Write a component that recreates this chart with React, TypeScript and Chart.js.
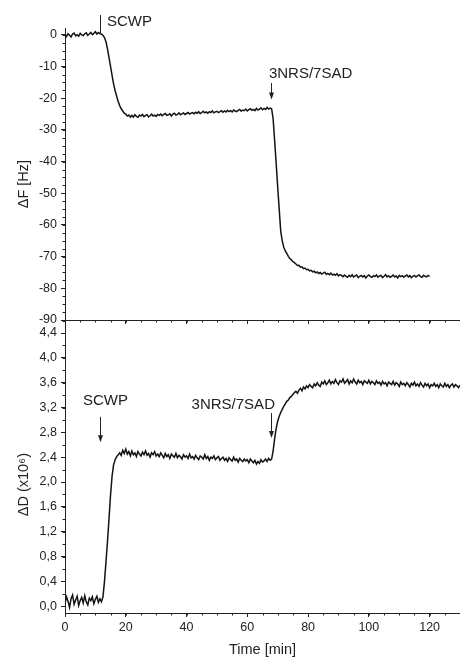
import React, { useEffect, useRef } from 'react';
import { Chart, registerables } from 'chart.js';

Chart.register(...registerables);

// ---------- data ----------
const SAMPLE_STEP_MIN = 0.5; // sampling interval of the traces (min)

// frequency shift ΔF [Hz], one value every 0.5 min from t = 0 to 120 min
const deltaF = [
  // 0 – 11.5
  0.2, -0.5, 0.4, -0.1, -0.6, 0.3, 0.6, -0.3, 0.1, -0.4, 0.5, 0.0,
  -0.2, 0.4, 0.7, -0.1, 0.3, 0.8, 0.1, 0.5, 1.0, 0.3, 0.8, 0.4,
  // 12 – 21.5
  0.3, -0.2, -0.8, -2.2, -4.5, -7.2, -10, -12.8, -15.5, -17.6,
  -19.3, -21, -22.3, -23.3, -24, -24.7, -25, -25.6, -25.3, -25.9,
  // 22 – 31.5
  -25.4, -25.9, -25.2, -25.7, -26.0, -25.3, -25.6, -25.1, -25.8, -25.4,
  -25.2, -25.9, -25.5, -25.0, -25.6, -25.3, -25.7, -25.1, -25.4, -25.0,
  // 32 – 41.5
  -25.5, -25.1, -24.8, -25.4, -25.2, -24.9, -25.6, -25.0, -24.7, -25.3,
  -25.1, -24.6, -25.2, -24.9, -24.6, -25.1, -24.8, -24.5, -25.0, -24.7,
  // 42 – 51.5
  -24.5, -24.9, -24.4, -24.7, -24.2, -24.8, -24.5, -24.1, -24.6, -24.3,
  -24.7, -24.2, -24.5, -24.0, -24.6, -24.3, -24.1, -24.5, -24.2, -23.9,
  // 52 – 61.5
  -24.4, -24.0, -24.3, -23.8, -24.2, -23.9, -24.3, -23.7, -24.0, -24.2,
  -23.8, -23.5, -24.1, -23.7, -23.9, -23.4, -24.0, -23.6, -23.3, -23.8,
  // 62 – 71.5
  -23.5, -23.9, -23.2, -23.7, -23.4, -23.0, -23.6, -23.2, -23.5, -22.9,
  -23.4, -23.1, -23.3, -26.5, -33.5, -40.5, -48, -55, -62, -65,
  // 72 – 81.5
  -67, -68.2, -69, -69.9, -70.6, -71.0, -71.6, -71.9, -72.3, -72.8,
  -72.7, -73.3, -73.2, -73.8, -73.6, -74.1, -74.0, -74.5, -74.3, -74.8,
  // 82 – 91.5
  -74.6, -75.1, -74.8, -75.3, -75.0, -75.5, -75.2, -74.9, -75.6, -75.3,
  -75.7, -75.2, -75.8, -75.5, -75.9, -75.4, -76.1, -75.7, -75.9, -76.3,
  // 92 – 101.5
  -75.8, -76.2, -76.5, -75.9, -76.3, -75.7, -76.4, -76.1, -75.8, -76.6,
  -76.2, -75.9, -76.4, -76.0, -76.7, -76.1, -75.8, -76.3, -76.5, -76.0,
  // 102 – 111.5
  -76.3, -75.8, -76.5, -76.1, -75.9, -76.6, -76.2, -75.7, -76.4, -76.0,
  -76.5, -76.2, -75.8, -76.4, -76.1, -76.7, -75.9, -76.3, -76.0, -76.5,
  // 112 – 120
  -76.1, -75.8, -76.4, -76.0, -76.6, -76.2, -75.9, -76.4, -76.1, -75.7,
  -76.3, -76.5, -75.9, -76.2, -76.4, -75.9, -76.2,
];

// dissipation shift ΔD (x10^6), one value every 0.5 min from t = 0 to 130 min
const deltaD = [
  // 0 – 11.5
  0.04, 0.15, 0.08, -0.02, 0.12, 0.18, 0.03, 0.10, 0.16, 0.01, 0.09, 0.14,
  0.05, 0.17, 0.07, 0.02, 0.13, 0.09, 0.15, 0.04, 0.11, 0.16, 0.06, 0.12,
  // 12 – 21.5
  0.07, 0.15, 0.4, 0.72, 1.05, 1.42, 1.8, 2.1, 2.28, 2.36,
  2.41, 2.44, 2.47, 2.43, 2.51, 2.46, 2.53, 2.45, 2.49, 2.42,
  // 22 – 31.5
  2.50, 2.44, 2.47, 2.41, 2.49, 2.45, 2.42, 2.48, 2.44, 2.50,
  2.43, 2.46, 2.40, 2.47, 2.44, 2.49, 2.42, 2.45, 2.41, 2.47,
  // 32 – 41.5
  2.43, 2.39, 2.46, 2.41, 2.44, 2.38, 2.45, 2.42, 2.40, 2.46,
  2.39, 2.43, 2.41, 2.37, 2.44, 2.40, 2.42, 2.38, 2.45, 2.39,
  // 42 – 51.5
  2.41, 2.37, 2.43, 2.39, 2.36, 2.42, 2.40, 2.37, 2.44, 2.38,
  2.41, 2.35, 2.40, 2.38, 2.42, 2.36, 2.39, 2.41, 2.35, 2.38,
  // 52 – 61.5
  2.40, 2.35, 2.38, 2.33, 2.39, 2.36, 2.34, 2.40, 2.35, 2.37,
  2.32, 2.38, 2.35, 2.33, 2.37, 2.34, 2.36, 2.31, 2.37, 2.34,
  // 62 – 71.5
  2.31, 2.35, 2.29, 2.33, 2.30, 2.36, 2.32, 2.34, 2.37, 2.33,
  2.38, 2.35, 2.37, 2.50, 2.70, 2.86, 2.98, 3.06, 3.12, 3.17,
  // 72 – 81.5
  3.22, 3.26, 3.30, 3.32, 3.36, 3.38, 3.41, 3.44, 3.46, 3.43,
  3.48, 3.51, 3.47, 3.53, 3.50, 3.55, 3.52, 3.57, 3.54, 3.52,
  // 82 – 91.5
  3.58, 3.55, 3.60, 3.56, 3.54, 3.61, 3.58, 3.63, 3.57, 3.60,
  3.64, 3.58, 3.62, 3.59, 3.65, 3.60, 3.57, 3.63, 3.61, 3.66,
  // 92 – 101.5
  3.59, 3.62, 3.65, 3.58, 3.63, 3.60, 3.66, 3.61, 3.58, 3.64,
  3.60, 3.62, 3.57, 3.63, 3.61, 3.59, 3.64, 3.58, 3.62, 3.60,
  // 102 – 111.5
  3.57, 3.63, 3.59, 3.61, 3.56, 3.62, 3.58, 3.60, 3.55, 3.61,
  3.59, 3.57, 3.62, 3.56, 3.60, 3.58, 3.54, 3.61, 3.57, 3.59,
  // 112 – 121.5
  3.55, 3.60, 3.57, 3.53, 3.59, 3.56, 3.61, 3.55, 3.58, 3.54,
  3.60, 3.56, 3.53, 3.59, 3.55, 3.58, 3.52, 3.57, 3.55, 3.59,
  // 122 – 130
  3.54, 3.57, 3.52, 3.58, 3.55, 3.53, 3.59, 3.54, 3.57, 3.52,
  3.56, 3.58, 3.53, 3.57, 3.55, 3.52, 3.56,
];

// axes
const xRange = [0, 130];
const xMajorStep = 20;
const xMinorStep = 5;
const fRange = [-90, 2.2];
const fMajorStep = 10;
const fMinorStep = 2.5;
const dRange = [-0.11, 4.61];
const dMajorStep = 0.4;
const dMinorStep = 0.2;

const xTitle = 'Time [min]';
const fTitle = 'ΔF [Hz]';
const dTitle = 'ΔD (x10⁶)';

// injection annotations
const annotationLabels = ['SCWP', '3NRS/7SAD'];
const annotationTimes = [11.4, 67.8];
// top panel (ΔF)
const fArrowFrom = [6.3, -15.2];
const fArrowTo = [0.6, -20.4];
const fArrowHead = [false, true];
const fTextTime = [13.8, 67.1];
const fTextValue = [4.1, -12.3];
const fTextAlign = ['left', 'left'];
// bottom panel (ΔD)
const dArrowFrom = [3.05, 3.11];
const dArrowTo = [2.64, 2.71];
const dArrowHead = [true, true];
const dTextTime = [5.9, 69.1];
const dTextValue = [3.3, 3.24];
const dTextAlign = ['left', 'right'];

// ---------- styling ----------
const INK = '#222222';
const LINE = '#141414';
const FONT = "'Liberation Sans', Arial, Helvetica, sans-serif";
const NBSP = '\u00A0';

Chart.defaults.font.family = FONT;
Chart.defaults.color = INK;

const toPoints = (vals: number[]) =>
  vals.map((v, i) => ({ x: i * SAMPLE_STEP_MIN, y: v }));

const minorTicksPlugin = {
  id: 'minorTicks',
  afterDraw(chart: any, _args: any, opts: any) {
    const { ctx } = chart;
    const steps = opts.steps || {};
    ctx.save();
    ctx.strokeStyle = INK;
    ctx.lineWidth = 1;
    Object.keys(steps).forEach((id) => {
      const s = chart.scales[id];
      if (!s) return;
      const step = steps[id];
      const len = opts.length || 2.5;
      const i0 = Math.ceil(s.min / step - 1e-9);
      ctx.beginPath();
      for (let i = i0; i * step <= s.max + 1e-9; i++) {
        const p = Math.round(s.getPixelForValue(i * step)) + 0.5;
        if (s.isHorizontal()) {
          const y0 = Math.round(s.top);
          ctx.moveTo(p, y0);
          ctx.lineTo(p, y0 + len);
        } else {
          const x0 = Math.round(s.right);
          ctx.moveTo(x0, p);
          ctx.lineTo(x0 - len, p);
        }
      }
      ctx.stroke();
    });
    ctx.restore();
  },
};

const arrowNotesPlugin = {
  id: 'arrowNotes',
  afterDatasetsDraw(chart: any, _args: any, opts: any) {
    const { ctx } = chart;
    const x = chart.scales.x;
    const y = chart.scales.y;
    const n = annotationLabels.length;
    ctx.save();
    ctx.strokeStyle = INK;
    ctx.fillStyle = INK;
    ctx.lineWidth = 1;
    for (let i = 0; i < n; i++) {
      const px = Math.round(x.getPixelForValue(annotationTimes[i])) + 0.5;
      const yFrom = y.getPixelForValue(opts.arrowFrom[i]);
      const yTo = y.getPixelForValue(opts.arrowTo[i]);
      ctx.beginPath();
      ctx.moveTo(px, yFrom);
      ctx.lineTo(px, opts.arrowHead[i] ? yTo - 4 : yTo);
      ctx.stroke();
      if (opts.arrowHead[i]) {
        ctx.beginPath();
        ctx.moveTo(px, yTo);
        ctx.lineTo(px - 2.5, yTo - 7);
        ctx.lineTo(px + 2.5, yTo - 7);
        ctx.closePath();
        ctx.fill();
      }
      ctx.font = `15px ${FONT}`;
      ctx.textBaseline = 'middle';
      ctx.textAlign = opts.textAlign[i];
      ctx.fillText(
        annotationLabels[i],
        x.getPixelForValue(opts.textTime[i]),
        y.getPixelForValue(opts.textValue[i])
      );
    }
    ctx.restore();
  },
};

function baseOptions(
  yRange: number[],
  yMajor: number,
  yMinor: number,
  yTitle: string,
  yTitleShift: number,
  showXLabels: boolean,
  xHeight: number,
  topPad: number,
  yFormat: (v: number) => string,
  notes: any
) {
  return {
    responsive: false,
    animation: false as const,
    layout: { padding: { top: topPad, left: 0, right: 0, bottom: 0 } },
    plugins: {
      legend: { display: false },
      tooltip: { enabled: false },
      minorTicks: { steps: { x: xMinorStep, y: yMinor }, length: 2.5 },
      arrowNotes: notes,
    },
    scales: {
      x: {
        type: 'linear' as const,
        min: xRange[0],
        max: xRange[1],
        border: { display: true, color: INK, width: 1 },
        grid: { drawOnChartArea: false, drawTicks: true, tickLength: 4, color: INK },
        ticks: {
          display: showXLabels,
          stepSize: xMajorStep,
          includeBounds: false,
          padding: 3,
          color: INK,
          font: { size: 12.5 },
          maxRotation: 0,
          autoSkip: false,
        },
        title: {
          display: showXLabels,
          text: xTitle,
          color: INK,
          font: { size: 14.5 },
          padding: { top: 0, bottom: 0 },
        },
        afterFit: (s: any) => {
          s.height = xHeight;
          s.paddingLeft = 0;
          s.paddingRight = 0;
        },
      },
      y: {
        type: 'linear' as const,
        min: yRange[0],
        max: yRange[1],
        border: { display: true, color: INK, width: 1 },
        grid: { drawOnChartArea: false, drawTicks: true, tickLength: 4, color: INK },
        ticks: {
          stepSize: yMajor,
          includeBounds: false,
          padding: 4,
          color: INK,
          font: { size: 12.5 },
          autoSkip: false,
          callback: (v: any) => yFormat(Number(v)),
        },
        title: {
          display: true,
          text: yTitle + NBSP.repeat(yTitleShift),
          color: INK,
          font: { size: 14.5 },
          padding: { top: 15, bottom: 0 },
        },
        afterFit: (s: any) => {
          s.width = 65;
          s.paddingTop = 0;
          s.paddingBottom = 0;
        },
      },
    },
  };
}

export default function App() {
  const topRef = useRef<HTMLCanvasElement>(null);
  const botRef = useRef<HTMLCanvasElement>(null);

  useEffect(() => {
    const lineDataset = (vals: number[]) => ({
      data: toPoints(vals),
      borderColor: LINE,
      borderWidth: 1.5,
      pointRadius: 0,
      tension: 0,
      fill: false,
    });

    const top = new Chart(topRef.current as HTMLCanvasElement, {
      type: 'line',
      data: { datasets: [lineDataset(deltaF) as any] },
      options: baseOptions(
        fRange,
        fMajorStep,
        fMinorStep,
        fTitle,
        5,
        false,
        4,
        28,
        (v) => String(Math.round(v)),
        {
          arrowFrom: fArrowFrom,
          arrowTo: fArrowTo,
          arrowHead: fArrowHead,
          textTime: fTextTime,
          textValue: fTextValue,
          textAlign: fTextAlign,
        }
      ) as any,
      plugins: [minorTicksPlugin, arrowNotesPlugin],
    });

    const bottom = new Chart(botRef.current as HTMLCanvasElement, {
      type: 'line',
      data: { datasets: [lineDataset(deltaD) as any] },
      options: baseOptions(
        dRange,
        dMajorStep,
        dMinorStep,
        dTitle,
        9,
        true,
        46,
        0,
        (v) => v.toFixed(1).replace('.', ','),
        {
          arrowFrom: dArrowFrom,
          arrowTo: dArrowTo,
          arrowHead: dArrowHead,
          textTime: dTextTime,
          textValue: dTextValue,
          textAlign: dTextAlign,
        }
      ) as any,
      plugins: [minorTicksPlugin, arrowNotesPlugin],
    });

    return () => {
      top.destroy();
      bottom.destroy();
    };
  }, []);

  return (
    <div
      style={{
        position: 'absolute',
        left: 0,
        top: 0,
        width: 460,
        height: 659,
        background: '#ffffff',
        overflow: 'hidden',
      }}
    >
      <canvas
        ref={topRef}
        width={460}
        height={324}
        style={{ position: 'absolute', left: 0, top: 0, width: 460, height: 324 }}
      />
      <canvas
        ref={botRef}
        width={460}
        height={339}
        style={{ position: 'absolute', left: 0, top: 320, width: 460, height: 339 }}
      />
    </div>
  );
}
